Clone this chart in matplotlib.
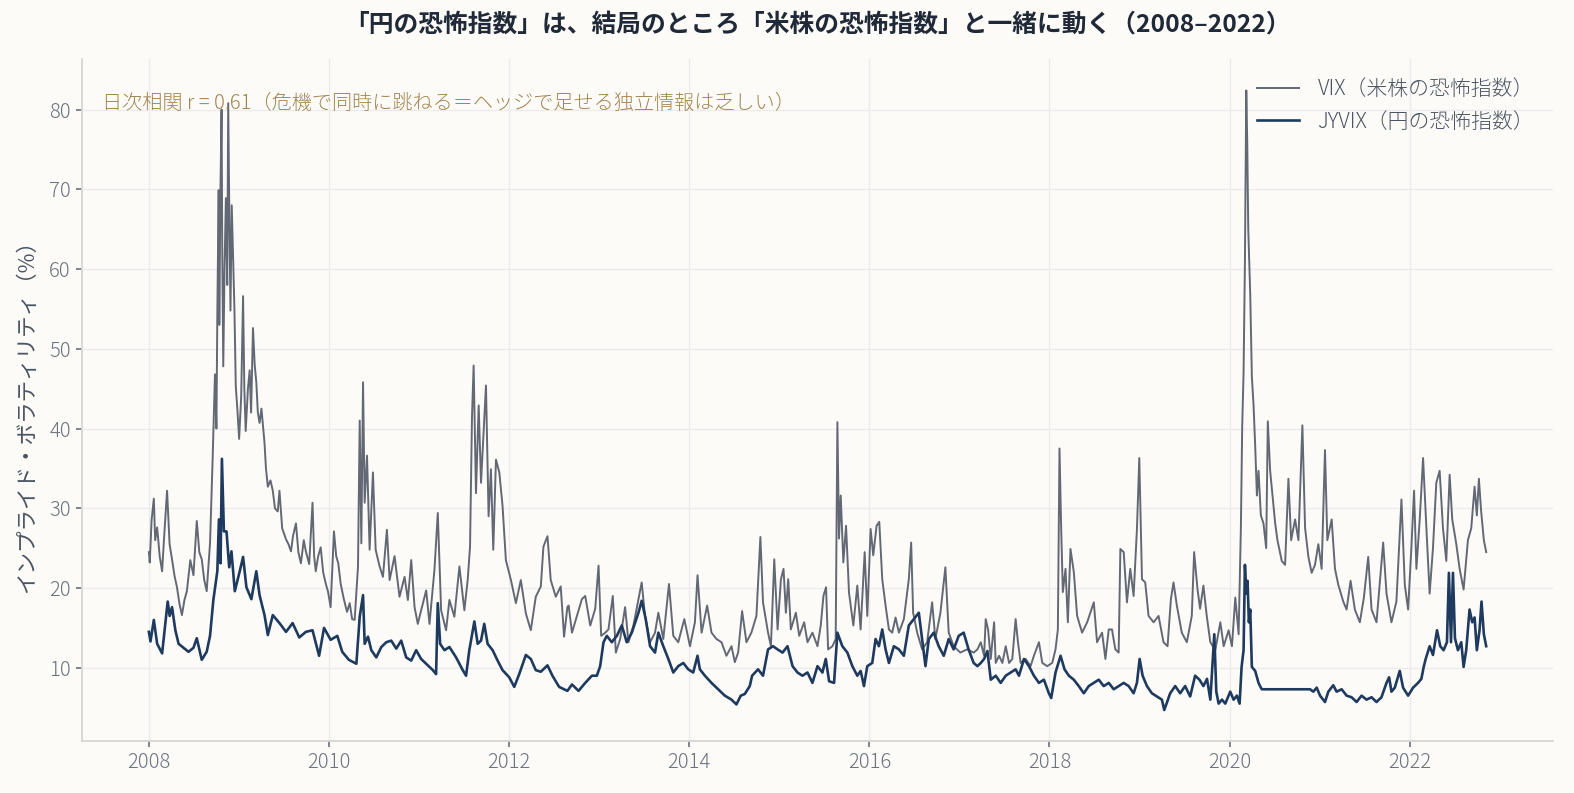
import matplotlib
matplotlib.use('Agg')

import matplotlib.pyplot as plt
import numpy as np

plt.rcParams['font.family'] = ['Noto Sans CJK JP', 'DejaVu Sans']
plt.rcParams['font.weight'] = 'light'

# texts
title = "「円の恐怖指数」は、結局のところ「米株の恐怖指数」と一緒に動く（2008–2022）"
ylabel = "インプライド・ボラティリティ（%）"
note = "日次相関 r = 0.61（危機で同時に跳ねる＝ヘッジで足せる独立情報は乏しい）"
vix_label = "VIX（米株の恐怖指数）"
jyvix_label = "JYVIX（円の恐怖指数）"

year_ticks = [2008, 2010, 2012, 2014, 2016, 2018, 2020, 2022]
value_ticks = [10, 20, 30, 40, 50, 60, 70, 80]

# (decimal year, level)
vix_points = [
    (2008.000, 24.5), (2008.010, 23.2), (2008.030, 28.5), (2008.055, 31.2), (2008.070, 26.0),
    (2008.092, 27.6), (2008.120, 24.0), (2008.147, 22.1), (2008.170, 26.5), (2008.202, 32.2),
    (2008.230, 25.5), (2008.257, 23.6), (2008.285, 21.5), (2008.312, 20.1), (2008.340, 18.0),
    (2008.367, 16.6), (2008.395, 18.5), (2008.422, 19.6), (2008.460, 23.5), (2008.495, 21.6),
    (2008.532, 28.4), (2008.560, 24.5), (2008.587, 23.6), (2008.615, 21.0), (2008.642, 19.6),
    (2008.679, 25.6), (2008.708, 36.2), (2008.734, 46.8), (2008.750, 40.0), (2008.760, 54.3),
    (2008.775, 69.9), (2008.782, 53.0), (2008.795, 70.0), (2008.807, 80.0), (2008.815, 62.0),
    (2008.826, 47.8), (2008.840, 60.0), (2008.855, 68.9), (2008.870, 58.0), (2008.881, 80.8),
    (2008.895, 65.0), (2008.906, 54.8), (2008.920, 68.0), (2008.936, 60.9), (2008.950, 55.0),
    (2008.965, 45.3), (2008.985, 42.0), (2009.002, 38.7), (2009.025, 44.0), (2009.046, 56.6),
    (2009.060, 45.0), (2009.075, 39.7), (2009.100, 45.0), (2009.119, 47.3), (2009.135, 42.0),
    (2009.156, 52.6), (2009.175, 48.0), (2009.193, 45.8), (2009.210, 42.0), (2009.229, 40.7),
    (2009.250, 42.5), (2009.284, 38.2), (2009.300, 35.0), (2009.321, 32.7), (2009.350, 33.5),
    (2009.376, 32.2), (2009.400, 30.0), (2009.431, 29.6), (2009.450, 32.2), (2009.480, 27.5),
    (2009.523, 26.1), (2009.550, 25.5), (2009.578, 24.6), (2009.600, 26.5), (2009.633, 28.1),
    (2009.660, 24.5), (2009.688, 23.1), (2009.720, 26.0), (2009.743, 24.6), (2009.780, 23.0),
    (2009.817, 30.7), (2009.835, 24.0), (2009.853, 22.1), (2009.880, 24.0), (2009.908, 25.1),
    (2009.935, 22.0), (2009.963, 20.6), (2009.990, 19.5), (2010.018, 17.6), (2010.055, 27.1),
    (2010.080, 24.0), (2010.103, 23.1), (2010.130, 20.5), (2010.165, 18.6), (2010.200, 17.0),
    (2010.230, 18.1), (2010.257, 16.1), (2010.285, 16.0), (2010.322, 22.7), (2010.341, 41.0),
    (2010.359, 25.6), (2010.378, 45.8), (2010.396, 30.7), (2010.422, 36.6), (2010.451, 24.8),
    (2010.488, 34.5), (2010.518, 24.8), (2010.562, 22.7), (2010.599, 21.4), (2010.643, 27.3),
    (2010.673, 21.0), (2010.728, 24.0), (2010.783, 18.9), (2010.839, 21.4), (2010.876, 18.5),
    (2010.913, 23.5), (2010.950, 17.6), (2010.986, 15.5), (2011.023, 17.2), (2011.079, 19.7),
    (2011.116, 15.5), (2011.171, 22.3), (2011.208, 29.4), (2011.245, 17.2), (2011.300, 14.7),
    (2011.337, 18.5), (2011.392, 16.4), (2011.448, 22.7), (2011.503, 17.2), (2011.540, 21.0),
    (2011.566, 25.2), (2011.588, 41.6), (2011.606, 47.9), (2011.632, 31.9), (2011.662, 42.9),
    (2011.688, 33.2), (2011.713, 38.7), (2011.743, 45.4), (2011.772, 29.0), (2011.798, 34.9),
    (2011.824, 24.8), (2011.854, 36.1), (2011.891, 34.5), (2011.927, 30.3), (2011.964, 23.5),
    (2012.020, 21.0), (2012.075, 18.1), (2012.130, 21.0), (2012.186, 16.8), (2012.241, 14.7),
    (2012.296, 18.9), (2012.352, 20.2), (2012.381, 25.2), (2012.426, 26.5), (2012.462, 21.0),
    (2012.518, 18.9), (2012.573, 20.2), (2012.610, 13.9), (2012.647, 17.6), (2012.661, 17.8),
    (2012.698, 14.4), (2012.753, 16.5), (2012.808, 18.6), (2012.845, 19.0), (2012.901, 15.3),
    (2012.956, 17.4), (2012.993, 22.8), (2013.022, 14.0), (2013.067, 14.4), (2013.103, 14.8),
    (2013.151, 19.0), (2013.185, 11.9), (2013.233, 13.6), (2013.288, 17.6), (2013.325, 13.2),
    (2013.380, 15.3), (2013.436, 18.6), (2013.472, 20.7), (2013.509, 16.5), (2013.565, 13.2),
    (2013.620, 14.4), (2013.657, 16.9), (2013.712, 13.6), (2013.775, 20.5), (2013.823, 14.0),
    (2013.878, 13.2), (2013.945, 16.1), (2014.008, 12.7), (2014.063, 15.7), (2014.092, 21.6),
    (2014.137, 14.4), (2014.199, 17.8), (2014.247, 14.4), (2014.303, 13.6), (2014.358, 13.2),
    (2014.413, 11.5), (2014.469, 12.7), (2014.506, 10.7), (2014.543, 11.9), (2014.587, 17.1),
    (2014.635, 13.2), (2014.690, 14.4), (2014.746, 16.5), (2014.790, 26.4), (2014.819, 18.2),
    (2014.875, 14.4), (2014.907, 12.7), (2014.944, 23.6), (2014.981, 14.8), (2015.018, 21.1),
    (2015.047, 22.4), (2015.073, 16.9), (2015.099, 21.1), (2015.128, 14.8), (2015.184, 16.9),
    (2015.221, 14.0), (2015.276, 15.7), (2015.313, 13.2), (2015.368, 14.4), (2015.424, 12.7),
    (2015.460, 15.3), (2015.490, 19.0), (2015.519, 20.1), (2015.542, 12.3), (2015.590, 12.7),
    (2015.626, 13.6), (2015.645, 40.8), (2015.663, 26.2), (2015.682, 31.6), (2015.711, 23.2),
    (2015.741, 27.8), (2015.774, 19.4), (2015.822, 15.3), (2015.866, 20.3), (2015.903, 14.8),
    (2015.948, 24.5), (2015.977, 16.5), (2016.014, 27.4), (2016.043, 24.1), (2016.080, 27.8),
    (2016.110, 28.3), (2016.143, 21.1), (2016.180, 17.8), (2016.217, 14.8), (2016.254, 14.4),
    (2016.291, 16.3), (2016.328, 14.4), (2016.383, 16.1), (2016.438, 21.1), (2016.464, 25.7),
    (2016.486, 16.9), (2016.531, 14.4), (2016.586, 12.3), (2016.641, 13.2), (2016.697, 18.2),
    (2016.733, 13.6), (2016.789, 16.9), (2016.844, 22.6), (2016.881, 14.4), (2016.936, 12.7),
    (2017.010, 11.9), (2017.084, 12.3), (2017.158, 11.9), (2017.200, 12.3), (2017.237, 13.2),
    (2017.274, 11.5), (2017.292, 16.1), (2017.318, 14.8), (2017.348, 11.1), (2017.385, 15.7),
    (2017.403, 10.6), (2017.440, 11.5), (2017.477, 10.6), (2017.514, 12.7), (2017.551, 10.6),
    (2017.587, 11.1), (2017.624, 16.1), (2017.650, 13.2), (2017.680, 10.6), (2017.735, 11.1),
    (2017.790, 10.2), (2017.827, 11.5), (2017.883, 13.2), (2017.920, 10.6), (2017.975, 10.2),
    (2018.030, 10.6), (2018.067, 12.3), (2018.093, 14.8), (2018.111, 37.5), (2018.130, 27.4),
    (2018.148, 19.5), (2018.178, 22.4), (2018.204, 15.7), (2018.233, 24.9), (2018.270, 22.0),
    (2018.307, 16.5), (2018.362, 14.4), (2018.418, 15.7), (2018.492, 18.2), (2018.528, 13.2),
    (2018.584, 14.4), (2018.621, 11.1), (2018.658, 14.8), (2018.694, 14.8), (2018.731, 12.3),
    (2018.768, 11.9), (2018.787, 24.9), (2018.824, 24.5), (2018.860, 18.2), (2018.897, 22.4),
    (2018.934, 19.0), (2018.971, 27.4), (2018.997, 36.3), (2019.027, 21.1), (2019.063, 20.7),
    (2019.100, 16.5), (2019.156, 15.7), (2019.211, 16.5), (2019.266, 13.2), (2019.311, 12.7),
    (2019.348, 18.6), (2019.377, 20.7), (2019.414, 17.8), (2019.469, 14.4), (2019.525, 13.2),
    (2019.580, 16.5), (2019.606, 24.5), (2019.643, 19.9), (2019.672, 17.4), (2019.709, 20.3),
    (2019.746, 16.5), (2019.786, 13.2), (2019.841, 12.2), (2019.897, 15.7), (2019.934, 12.7),
    (2019.989, 14.7), (2020.026, 12.7), (2020.063, 18.8), (2020.100, 14.2), (2020.125, 27.5),
    (2020.140, 40.4), (2020.155, 47.0), (2020.170, 60.9), (2020.185, 82.4), (2020.196, 75.7),
    (2020.207, 65.0), (2020.218, 60.9), (2020.229, 56.8), (2020.247, 46.5), (2020.266, 42.9),
    (2020.284, 37.8), (2020.303, 31.6), (2020.321, 34.7), (2020.347, 29.1), (2020.376, 28.1),
    (2020.406, 25.0), (2020.424, 40.9), (2020.450, 34.7), (2020.476, 31.6), (2020.506, 28.1),
    (2020.531, 26.0), (2020.579, 23.4), (2020.616, 22.9), (2020.653, 33.7), (2020.683, 26.0),
    (2020.727, 28.6), (2020.764, 26.0), (2020.808, 40.4), (2020.838, 27.5), (2020.875, 23.9),
    (2020.911, 21.9), (2020.948, 22.9), (2020.985, 25.5), (2021.022, 22.4), (2021.059, 37.3),
    (2021.085, 26.0), (2021.133, 28.6), (2021.170, 22.4), (2021.207, 20.4), (2021.262, 18.3),
    (2021.299, 17.3), (2021.343, 20.9), (2021.391, 17.3), (2021.446, 15.7), (2021.491, 18.8),
    (2021.539, 23.9), (2021.576, 17.3), (2021.631, 15.7), (2021.705, 25.7), (2021.742, 19.3),
    (2021.797, 15.7), (2021.852, 18.3), (2021.908, 31.1), (2021.945, 20.4), (2021.982, 17.3),
    (2022.018, 25.0), (2022.048, 32.2), (2022.074, 22.4), (2022.111, 28.6), (2022.148, 36.3),
    (2022.185, 27.5), (2022.221, 19.3), (2022.258, 25.0), (2022.295, 33.2), (2022.332, 34.7),
    (2022.369, 27.5), (2022.406, 23.4), (2022.443, 34.2), (2022.472, 28.6), (2022.517, 25.5),
    (2022.554, 22.4), (2022.598, 19.8), (2022.646, 26.0), (2022.683, 27.5), (2022.720, 32.7),
    (2022.745, 29.1), (2022.768, 33.7), (2022.793, 29.6), (2022.823, 26.0), (2022.849, 24.5),
]

jyvix_points = [
    (2008.000, 14.5), (2008.018, 13.3), (2008.055, 16.0), (2008.092, 13.0), (2008.147, 11.8),
    (2008.183, 15.6), (2008.209, 18.3), (2008.231, 16.5), (2008.257, 17.6), (2008.294, 14.7),
    (2008.330, 13.0), (2008.385, 12.5), (2008.440, 12.0), (2008.495, 12.5), (2008.532, 13.7),
    (2008.587, 11.0), (2008.642, 12.0), (2008.679, 14.0), (2008.716, 18.5), (2008.760, 22.1),
    (2008.778, 28.6), (2008.796, 23.1), (2008.811, 36.2), (2008.833, 27.1), (2008.862, 27.1),
    (2008.892, 22.6), (2008.917, 24.6), (2008.954, 19.6), (2009.009, 22.1), (2009.046, 23.9),
    (2009.083, 20.1), (2009.138, 18.6), (2009.193, 22.1), (2009.229, 19.1), (2009.284, 16.6),
    (2009.321, 14.1), (2009.376, 16.6), (2009.450, 15.6), (2009.523, 14.5), (2009.596, 15.6),
    (2009.670, 13.8), (2009.743, 14.5), (2009.817, 14.7), (2009.890, 11.5), (2009.945, 15.0),
    (2010.018, 13.5), (2010.092, 14.0), (2010.147, 12.0), (2010.220, 11.0), (2010.304, 10.5),
    (2010.341, 16.4), (2010.378, 19.1), (2010.396, 13.0), (2010.433, 13.9), (2010.470, 12.2),
    (2010.525, 11.3), (2010.581, 12.6), (2010.636, 13.2), (2010.691, 13.4), (2010.747, 12.4),
    (2010.802, 13.4), (2010.857, 11.3), (2010.913, 10.9), (2010.968, 12.2), (2011.023, 11.1),
    (2011.079, 10.5), (2011.153, 9.7), (2011.189, 9.2), (2011.208, 18.1), (2011.234, 13.0),
    (2011.282, 12.2), (2011.337, 12.6), (2011.411, 11.3), (2011.485, 9.7), (2011.522, 9.0),
    (2011.558, 12.2), (2011.614, 15.8), (2011.651, 13.0), (2011.688, 13.4), (2011.724, 15.5),
    (2011.761, 13.0), (2011.817, 12.2), (2011.872, 10.9), (2011.927, 9.7), (2012.001, 8.8),
    (2012.057, 7.6), (2012.112, 9.2), (2012.186, 11.6), (2012.241, 11.1), (2012.296, 9.7),
    (2012.352, 9.5), (2012.426, 10.3), (2012.481, 9.0), (2012.555, 7.6), (2012.647, 7.1),
    (2012.698, 7.9), (2012.771, 7.1), (2012.845, 8.1), (2012.919, 9.0), (2012.974, 9.0),
    (2013.011, 10.2), (2013.048, 13.2), (2013.085, 14.0), (2013.140, 13.2), (2013.196, 14.0),
    (2013.251, 15.3), (2013.306, 13.2), (2013.362, 14.4), (2013.436, 16.9), (2013.472, 18.4),
    (2013.517, 16.1), (2013.565, 12.7), (2013.620, 11.9), (2013.657, 14.4), (2013.712, 12.7),
    (2013.768, 11.1), (2013.823, 9.4), (2013.878, 10.2), (2013.934, 10.6), (2013.989, 9.8),
    (2014.044, 9.4), (2014.092, 11.5), (2014.118, 9.8), (2014.174, 9.0), (2014.247, 8.1),
    (2014.321, 7.3), (2014.395, 6.5), (2014.469, 6.0), (2014.524, 5.4), (2014.572, 6.5),
    (2014.616, 6.7), (2014.672, 7.7), (2014.698, 9.0), (2014.764, 9.8), (2014.819, 9.0),
    (2014.875, 12.3), (2014.930, 12.7), (2014.981, 12.3), (2015.036, 11.9), (2015.091, 12.7),
    (2015.147, 10.2), (2015.202, 9.4), (2015.257, 9.0), (2015.313, 9.4), (2015.368, 8.1),
    (2015.424, 10.2), (2015.479, 9.4), (2015.516, 11.1), (2015.553, 8.3), (2015.608, 8.1),
    (2015.645, 14.4), (2015.700, 12.7), (2015.756, 11.9), (2015.811, 10.2), (2015.866, 9.0),
    (2015.903, 9.6), (2015.940, 7.7), (2015.977, 10.2), (2016.032, 10.6), (2016.069, 13.6),
    (2016.106, 12.7), (2016.143, 14.8), (2016.180, 12.3), (2016.217, 10.6), (2016.272, 12.7),
    (2016.328, 12.3), (2016.383, 11.5), (2016.438, 15.3), (2016.494, 16.1), (2016.549, 16.9),
    (2016.586, 13.6), (2016.623, 10.2), (2016.660, 13.6), (2016.715, 14.4), (2016.770, 12.7),
    (2016.826, 11.5), (2016.881, 13.6), (2016.936, 12.3), (2016.992, 14.0), (2017.047, 14.4),
    (2017.102, 12.3), (2017.158, 10.6), (2017.200, 10.2), (2017.237, 10.6), (2017.274, 11.1),
    (2017.311, 12.1), (2017.348, 8.5), (2017.403, 9.0), (2017.458, 8.1), (2017.514, 9.0),
    (2017.569, 9.4), (2017.624, 9.8), (2017.661, 9.0), (2017.717, 11.1), (2017.772, 10.2),
    (2017.827, 9.0), (2017.883, 8.1), (2017.938, 8.5), (2017.993, 6.8), (2018.019, 6.2),
    (2018.067, 9.4), (2018.123, 11.5), (2018.167, 9.8), (2018.215, 9.0), (2018.270, 8.5),
    (2018.325, 7.7), (2018.381, 6.8), (2018.436, 7.7), (2018.492, 8.1), (2018.547, 8.5),
    (2018.602, 7.7), (2018.658, 8.1), (2018.713, 7.3), (2018.768, 7.7), (2018.824, 8.1),
    (2018.879, 7.7), (2018.934, 6.8), (2018.971, 8.1), (2019.001, 11.1), (2019.034, 9.0),
    (2019.082, 7.7), (2019.137, 6.8), (2019.193, 6.4), (2019.248, 6.0), (2019.274, 4.7),
    (2019.303, 5.6), (2019.340, 6.8), (2019.396, 7.7), (2019.451, 6.8), (2019.506, 7.7),
    (2019.562, 6.4), (2019.617, 9.0), (2019.665, 8.5), (2019.709, 7.7), (2019.749, 8.6),
    (2019.786, 6.0), (2019.830, 14.2), (2019.852, 7.0), (2019.878, 5.5), (2019.915, 6.0),
    (2019.952, 5.5), (2020.007, 7.0), (2020.044, 6.0), (2020.081, 6.5), (2020.111, 5.5),
    (2020.133, 10.1), (2020.155, 12.2), (2020.170, 22.9), (2020.185, 19.3), (2020.199, 20.9),
    (2020.214, 15.7), (2020.229, 17.3), (2020.247, 10.1), (2020.284, 9.6), (2020.321, 8.1),
    (2020.347, 7.5), (2020.358, 7.3), (2020.893, 7.3), (2020.930, 7.0), (2020.967, 7.5),
    (2021.004, 6.5), (2021.059, 5.7), (2021.096, 7.0), (2021.151, 7.8), (2021.188, 7.0),
    (2021.244, 7.3), (2021.299, 6.5), (2021.354, 6.3), (2021.410, 5.7), (2021.465, 6.5),
    (2021.520, 6.0), (2021.576, 6.3), (2021.631, 5.7), (2021.686, 6.3), (2021.742, 8.1),
    (2021.771, 8.8), (2021.797, 7.0), (2021.834, 7.5), (2021.889, 9.6), (2021.926, 7.5),
    (2021.982, 6.5), (2022.037, 7.5), (2022.092, 8.1), (2022.129, 8.6), (2022.155, 10.1),
    (2022.177, 11.1), (2022.221, 12.7), (2022.258, 11.6), (2022.303, 14.7), (2022.339, 12.7),
    (2022.376, 12.2), (2022.413, 13.2), (2022.435, 21.9), (2022.458, 13.2), (2022.480, 21.9),
    (2022.502, 13.7), (2022.535, 12.2), (2022.572, 13.2), (2022.598, 10.1), (2022.627, 12.2),
    (2022.664, 17.3), (2022.694, 15.7), (2022.720, 16.3), (2022.745, 12.2), (2022.775, 14.7),
    (2022.797, 18.3), (2022.823, 14.2), (2022.849, 12.7),
]

BG = '#fcfbf8'
VIX_COLOR = '#636875'
JY_COLOR = '#1f3a5f'
TEXT_GREY = '#6b7280'

vix_t, vix_v = np.array(vix_points).T
jy_t, jy_v = np.array(jyvix_points).T

fig = plt.figure(figsize=(15.74, 7.93), dpi=100)
fig.patch.set_facecolor(BG)
ax = fig.add_axes([0.0521, 0.0656, 0.9346, 0.8594])
ax.set_facecolor(BG)

ax.plot(vix_t, vix_v, color=VIX_COLOR, lw=1.4, label=vix_label)
ax.plot(jy_t, jy_v, color=JY_COLOR, lw=1.9, label=jyvix_label)

ax.set_xticks(year_ticks)
ax.set_xticklabels([str(y) for y in year_ticks])
ax.set_yticks(value_ticks)

ax.grid(True, color='#ebebeb', lw=0.9)
ax.set_axisbelow(True)
for side in ['top', 'right']:
    ax.spines[side].set_visible(False)
for side in ['left', 'bottom']:
    ax.spines[side].set_color('#d6d6d2')
    ax.spines[side].set_linewidth(1.3)
ax.tick_params(axis='both', labelsize=14.5, labelcolor=TEXT_GREY, color='#5f6470',
               length=4.5, width=1.1)

ax.set_ylabel(ylabel, fontsize=15.5, color='#4b5563', va='center')
ax.yaxis.set_label_coords(-0.0374, 0.484)

ax.text(0.0137, 0.936, note, transform=ax.transAxes, ha='left', va='center',
        fontsize=14.5, color='#a3854f')

leg = ax.legend(loc='upper right', frameon=False, fontsize=15, handletextpad=0.9)
for t in leg.get_texts():
    t.set_color('#4b5563')

fig.text(0.5194, 1 - 24.5 / 793, title, ha='center', va='center',
         fontsize=17.8, fontweight='bold', color='#1f2937')

fig.savefig('out.png', dpi=100, facecolor=BG)
